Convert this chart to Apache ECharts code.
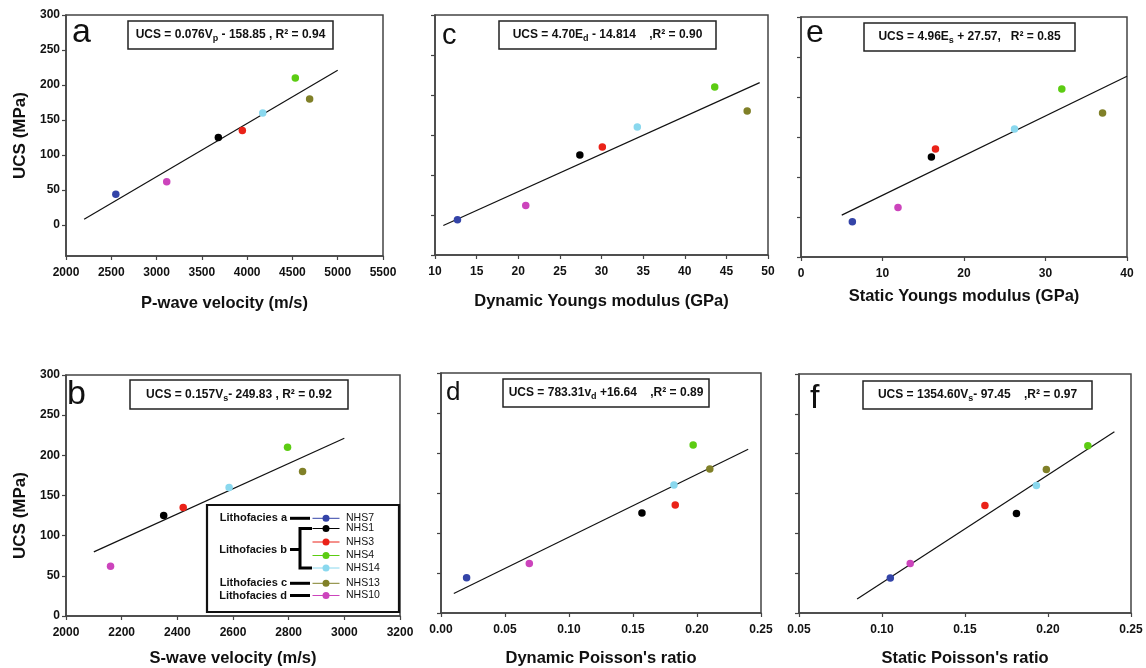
<!DOCTYPE html>
<html><head><meta charset="utf-8">
<script src="https://cdn.jsdelivr.net/npm/echarts@6/dist/echarts.min.js"></script>
<style>html,body{margin:0;padding:0;background:#fff}#c{width:1146px;height:668px}</style>
</head><body><div id="c"></div>
<script>
// ---- data ----
const samples = ['NHS7','NHS1','NHS3','NHS4','NHS14','NHS13','NHS10'];
const ucs = [44, 125, 135, 210, 160, 180, 62];
const vp  = [2550, 3682, 3947, 4532, 4172, 4690, 3112];
const vs  = [null, 2351, 2421, 2796, 2586, 2850, 2160];
const ed  = [12.7, 27.4, 30.1, 43.6, 34.3, 47.5, 20.9];
const nud = [0.020, 0.157, 0.183, 0.197, 0.182, 0.210, 0.069];
const es  = [6.3, 16.0, 16.5, 32.0, 26.2, 37.0, 11.9];
const nus = [0.105, 0.181, 0.162, 0.224, 0.193, 0.199, 0.117];

const fitSlopes     = [0.076, 0.157, 4.70, 783.31, 4.96, 1354.60];
const fitIntercepts = [-158.85, -249.83, -14.814, 16.64, 27.57, -97.45];
const fitRanges     = [[2200, 5000], [2100, 3000], [11, 49], [0.01, 0.24], [5, 40], [0.085, 0.24]];

const xTicksA = [2000, 2500, 3000, 3500, 4000, 4500, 5000, 5500];
const xTicksB = [2000, 2200, 2400, 2600, 2800, 3000, 3200];
const xTicksC = [10, 15, 20, 25, 30, 35, 40, 45, 50];
const xTicksD = [0, 0.05, 0.10, 0.15, 0.20, 0.25];
const xTicksE = [0, 10, 20, 30, 40];
const xTicksF = [0.05, 0.10, 0.15, 0.20, 0.25];
const yTicks  = [0, 50, 100, 150, 200, 250, 300];

const panelLetters = ['a', 'b', 'c', 'd', 'e', 'f'];
const xNames = ['P-wave velocity (m/s)', 'S-wave velocity (m/s)', 'Dynamic Youngs modulus (GPa)',
                "Dynamic Poisson's ratio", 'Static Youngs modulus (GPa)', "Static Poisson's ratio"];
const yName = 'UCS (MPa)';
const equations = [
  'UCS = 0.076V{s|p} - 158.85 , R² = 0.94',
  'UCS = 0.157V{s|s}- 249.83 , R² = 0.92',
  'UCS = 4.70E{s|d} - 14.814    ,R² = 0.90',
  'UCS = 783.31v{s|d} +16.64    ,R² = 0.89',
  'UCS = 4.96E{s|s} + 27.57,   R² = 0.85',
  'UCS = 1354.60V{s|s}- 97.45    ,R² = 0.97'
];
const lithoLabels = ['Lithofacies a', 'Lithofacies b', 'Lithofacies c', 'Lithofacies d'];
const lithoMembers = [[0], [1, 2, 3, 4], [5], [6]];

// ---- styles / layout ----
const sampleColors = ['#3444a8', '#000000', '#ea2218', '#5ccc12', '#8ad8ee', '#808028', '#cc44bc'];
const FONT = '"Liberation Sans", Arial, sans-serif';
const INK = '#111';
const AX = '#444';

const xData = [vp, vs, ed, nud, es, nus];
const xTicks = [xTicksA, xTicksB, xTicksC, xTicksD, xTicksE, xTicksF];
const xDec = [0, 0, 0, 2, 0, 2];
const grids = [
  {left: 66, top: 15, width: 317, height: 241},
  {left: 66, top: 375, width: 334, height: 241},
  {left: 435, top: 15, width: 333, height: 240},
  {left: 441, top: 373, width: 320, height: 242},
  {left: 801, top: 17, width: 326, height: 240},
  {left: 799, top: 374, width: 332, height: 241}
];
const yMins = [-44, 0, 0, 0, 0, 0];
const xNameGaps = [39, 34, 38, 37, 31, 37];
const eqBoxes = [
  {x: 128, y: 21, w: 205, h: 28},
  {x: 130, y: 380, w: 218, h: 29},
  {x: 499, y: 21, w: 217, h: 28},
  {x: 503, y: 379, w: 206, h: 28},
  {x: 864, y: 23, w: 211, h: 28},
  {x: 863, y: 381, w: 229, h: 28}
];
const letterPos = [
  {x: 72, base: 39, size: 34},
  {x: 67, base: 401.5, size: 34},
  {x: 442, base: 41.5, size: 29},
  {x: 446, base: 398.3, size: 26},
  {x: 806, base: 40, size: 32},
  {x: 810, base: 405, size: 34}
];

const option = {
  backgroundColor: '#fff',
  animation: false,
  grid: grids.map(g => Object.assign({show: true, borderColor: AX, borderWidth: 1.5, backgroundColor: 'transparent'}, g)),
  xAxis: grids.map((g, i) => ({
    type: 'value', gridIndex: i,
    min: xTicks[i][0], max: xTicks[i][xTicks[i].length - 1],
    name: xNames[i], nameLocation: 'middle', nameGap: xNameGaps[i],
    nameTextStyle: {fontFamily: FONT, fontWeight: 'bold', fontSize: 16.5, color: INK},
    axisLine: {show: true, onZero: false, lineStyle: {color: AX, width: 1.5}},
    axisTick: {show: true, length: 4, lineStyle: {color: AX, width: 1.2}, customValues: xTicks[i]},
    axisLabel: {show: true, margin: 11, fontFamily: FONT, fontWeight: 'bold', fontSize: 12, color: INK,
      customValues: xTicks[i], formatter: v => Number(v).toFixed(xDec[i])},
    splitLine: {show: false}
  })),
  yAxis: grids.map((g, i) => ({
    type: 'value', gridIndex: i, min: yMins[i], max: 300,
    name: (i < 2) ? yName : '', nameLocation: 'middle', nameGap: 37,
    nameTextStyle: {fontFamily: FONT, fontWeight: 'bold', fontSize: 17, color: INK,
      padding: i === 1 ? [0, 40, 0, 0] : 0},
    axisLine: {show: true, onZero: false, lineStyle: {color: AX, width: 1.5}},
    axisTick: {show: true, length: 4, lineStyle: {color: AX, width: 1.2}, customValues: yTicks},
    axisLabel: {show: i < 2, margin: 6, fontFamily: FONT, fontWeight: 'bold', fontSize: 12, color: INK,
      customValues: yTicks},
    splitLine: {show: false}
  })),
  series: []
};

xData.forEach((xs, i) => {
  option.series.push({
    type: 'line', xAxisIndex: i, yAxisIndex: i, symbol: 'none', silent: true, z: 2,
    lineStyle: {color: INK, width: 1.2},
    data: fitRanges[i].map(x => [x, fitSlopes[i] * x + fitIntercepts[i]])
  });
  option.series.push({
    type: 'scatter', xAxisIndex: i, yAxisIndex: i, symbolSize: 7.5, z: 3,
    data: xs.map((x, k) => x == null ? null : {name: samples[k], value: [x, ucs[k]], itemStyle: {color: sampleColors[k], opacity: 1}})
            .filter(d => d)
  });
});

// graphic: equation boxes, letters, legend
const graphic = [];
equations.forEach((eq, i) => {
  const b = eqBoxes[i];
  graphic.push({type: 'rect', shape: {x: b.x, y: b.y, width: b.w, height: b.h},
    style: {fill: '#fff', stroke: '#222', lineWidth: 1.5}, z: 10});
  graphic.push({type: 'text', x: b.x + b.w / 2, y: b.y + b.h / 2, z: 11,
    style: {text: eq, align: 'center', verticalAlign: 'middle', fill: INK,
      font: 'bold 12px ' + FONT,
      rich: {s: {font: 'bold 9px ' + FONT, fill: INK, padding: [8, 0, 0, 0]}}}});
});
panelLetters.forEach((L, i) => {
  const p = letterPos[i];
  graphic.push({type: 'text', x: p.x, y: p.base - 0.2 * p.size, z: 11,
    style: {text: L, align: 'left', verticalAlign: 'middle', fill: '#111',
      font: p.size + 'px ' + FONT}});
});

// legend
const rowY = [518.3, 528.5, 542, 555.5, 568, 583.3, 595.5];
const lithoY = [518.3, 549.5, 583.3, 595.5];
graphic.push({type: 'rect', shape: {x: 207, y: 505, width: 192, height: 107},
  style: {fill: '#fff', stroke: '#111', lineWidth: 2.2}, z: 10});
lithoLabels.forEach((t, j) => {
  graphic.push({type: 'text', x: 287, y: lithoY[j], z: 11,
    style: {text: t, align: 'right', verticalAlign: 'middle', fill: INK, font: 'bold 11px ' + FONT}});
  if (lithoMembers[j].length === 1) {
    graphic.push({type: 'line', z: 11, shape: {x1: 290, y1: lithoY[j], x2: 310, y2: lithoY[j]},
      style: {stroke: '#000', lineWidth: 3}});
  } else {
    const ys = lithoMembers[j].map(k => rowY[k]);
    const y0 = ys[0], y1 = ys[ys.length - 1];
    graphic.push({type: 'polyline', z: 11,
      shape: {points: [[312, y0], [300, y0], [300, y1], [312, y1]]},
      style: {stroke: '#000', lineWidth: 3, fill: null}});
    graphic.push({type: 'line', z: 11, shape: {x1: 290, y1: lithoY[j], x2: 300, y2: lithoY[j]},
      style: {stroke: '#000', lineWidth: 3}});
  }
});
samples.forEach((s, k) => {
  graphic.push({type: 'line', z: 11, shape: {x1: 312.5, y1: rowY[k], x2: 339.5, y2: rowY[k]},
    style: {stroke: sampleColors[k], lineWidth: 1}});
  graphic.push({type: 'circle', z: 12, shape: {cx: 326, cy: rowY[k], r: 3.5},
    style: {fill: sampleColors[k]}});
  graphic.push({type: 'text', x: 346, y: rowY[k], z: 11,
    style: {text: s, align: 'left', verticalAlign: 'middle', fill: INK, font: '10.5px ' + FONT}});
});
option.graphic = graphic;

const chart = echarts.init(document.getElementById('c'), null, {renderer: 'canvas'});
chart.setOption(option);
</script>
</body></html>
